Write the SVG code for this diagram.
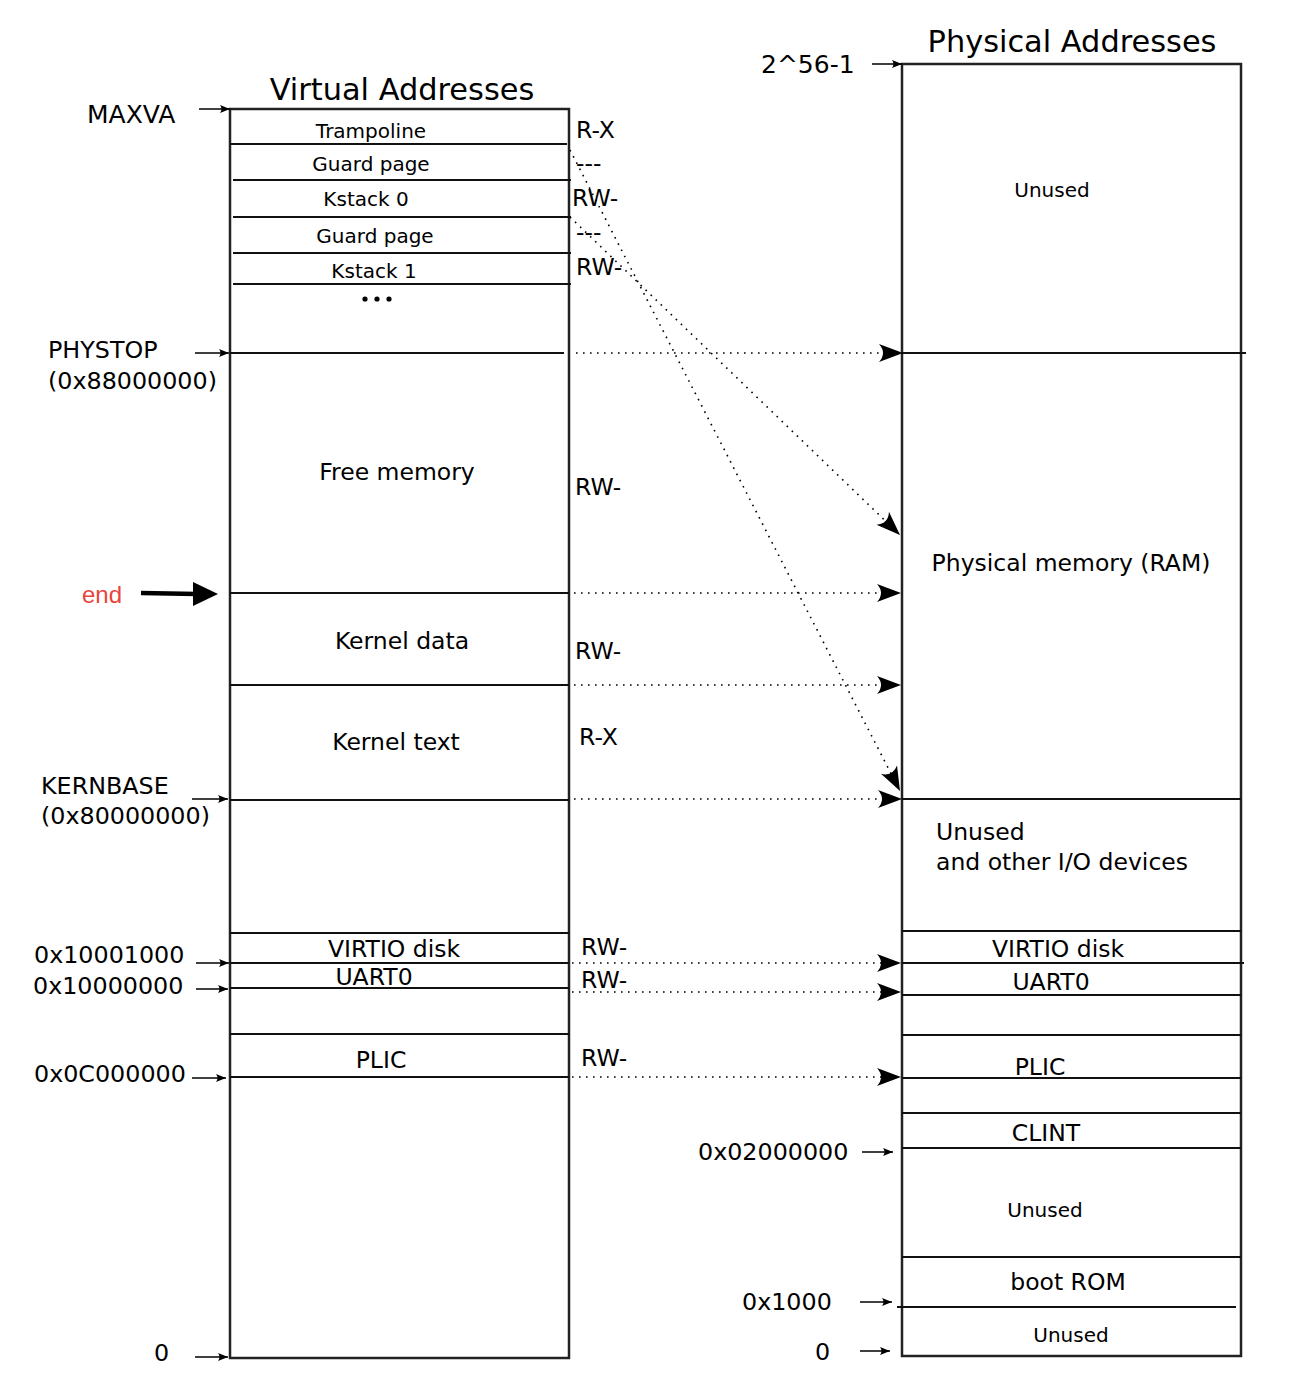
<svg xmlns="http://www.w3.org/2000/svg" width="1316" height="1386" viewBox="0 0 1316 1386">
  <style>
    text { font-family: "DejaVu Sans", "Noto Sans", sans-serif; fill: #000; }
    .title { font-size: 30.4px; text-anchor: middle; }
    .lbl { font-size: 23.5px; }
    .addr { font-size: 23.8px; }
    .big { font-size: 25px; }
    .mid { text-anchor: middle; }
    .sm { font-size: 20px; }
    .perm { font-size: 23.5px; }
    .box { fill: none; stroke: #222; stroke-width: 2.5; }
    .div { stroke: #111; stroke-width: 1.8; fill: none; }
    .ptr { stroke: #000; stroke-width: 1.5; fill: none; marker-end: url(#tick); }
    .map { stroke: #000; stroke-width: 1.6; fill: none; stroke-dasharray: 1.6 5.4; marker-end: url(#barb); }
  </style>
  <defs>
    <marker id="barb" markerUnits="userSpaceOnUse" markerWidth="30" markerHeight="24" refX="0" refY="0" viewBox="-26 -12 28 24" orient="auto">
      <path d="M0,0 L-24,-9 Q-16,0 -24,9 Z" fill="#000"/>
    </marker>
    <marker id="tick" markerUnits="userSpaceOnUse" markerWidth="14" markerHeight="10" refX="0" refY="0" viewBox="-12 -5 13 10" orient="auto">
      <path d="M0,0 L-10,-4 Q-7,0 -10,4 Z" fill="#000"/>
    </marker>
  </defs>

  <!-- Virtual address space column -->
  <g id="virtual">
    <text class="title" x="402" y="100">Virtual Addresses</text>
    <rect class="box" x="230" y="109" width="339" height="1249"/>
    <line class="div" x1="230" y1="144" x2="567" y2="144"/>
    <line class="div" x1="233" y1="180" x2="571" y2="180"/>
    <line class="div" x1="233" y1="217" x2="571" y2="217"/>
    <line class="div" x1="233" y1="253" x2="571" y2="253"/>
    <line class="div" x1="233" y1="284" x2="571" y2="284"/>
    <line class="div" x1="230" y1="353" x2="564" y2="353"/>
    <line class="div" x1="230" y1="593" x2="569" y2="593"/>
    <line class="div" x1="230" y1="685" x2="569" y2="685"/>
    <line class="div" x1="230" y1="800" x2="569" y2="800"/>
    <line class="div" x1="230" y1="933" x2="569" y2="933"/>
    <line class="div" x1="230" y1="963" x2="569" y2="963"/>
    <line class="div" x1="230" y1="988" x2="569" y2="988"/>
    <line class="div" x1="230" y1="1034" x2="569" y2="1034"/>
    <line class="div" x1="230" y1="1077" x2="569" y2="1077"/>

    <text class="sm mid" x="371" y="138">Trampoline</text>
    <text class="sm mid" x="371" y="171">Guard page</text>
    <text class="sm mid" x="366" y="206">Kstack 0</text>
    <text class="sm mid" x="375" y="243">Guard page</text>
    <text class="sm mid" x="374" y="278">Kstack 1</text>
    <circle cx="365" cy="299" r="2.6"/>
    <circle cx="377" cy="299" r="2.6"/>
    <circle cx="389" cy="299" r="2.6"/>
    <text class="lbl mid" x="397" y="480">Free memory</text>
    <text class="lbl mid" x="402" y="649">Kernel data</text>
    <text class="lbl mid" x="396" y="750">Kernel text</text>
    <text class="lbl mid" x="394" y="957">VIRTIO disk</text>
    <text class="lbl mid" x="374" y="985">UART0</text>
    <text class="lbl mid" x="381" y="1068">PLIC</text>

    <text class="perm" x="576" y="138">R-X</text>
    <text class="perm" x="576" y="171">---</text>
    <text class="perm" x="572" y="206">RW-</text>
    <text class="perm" x="576" y="240">---</text>
    <text class="perm" x="576" y="275">RW-</text>
    <text class="perm" x="575" y="495">RW-</text>
    <text class="perm" x="575" y="659">RW-</text>
    <text class="perm" x="579" y="745">R-X</text>
    <text class="perm" x="581" y="955">RW-</text>
    <text class="perm" x="581" y="988">RW-</text>
    <text class="perm" x="581" y="1066">RW-</text>
  </g>

  <!-- Virtual address labels -->
  <g id="virtual-labels">
    <text class="big" x="87" y="123">MAXVA</text>
    <line class="ptr" x1="199" y1="109" x2="230" y2="109"/>
    <text class="addr" x="48" y="358">PHYSTOP</text>
    <text class="addr" x="48" y="389">(0x88000000)</text>
    <line class="ptr" x1="195" y1="353" x2="229" y2="353"/>
    <text x="82" y="603" style="font-family:'Liberation Sans',Arial,sans-serif;font-size:24px;fill:#e8453c">end</text>
    <line x1="141" y1="593" x2="197" y2="594" stroke="#000" stroke-width="4.5"/>
    <path d="M218,594 L193,582 L193,606 Z" fill="#000"/>
    <text class="addr" x="41" y="794">KERNBASE</text>
    <text class="addr" x="41" y="824">(0x80000000)</text>
    <line class="ptr" x1="192" y1="799" x2="228" y2="799"/>
    <text class="addr" x="34" y="963">0x10001000</text>
    <line class="ptr" x1="196" y1="963" x2="229" y2="963"/>
    <text class="addr" x="33" y="994">0x10000000</text>
    <line class="ptr" x1="196" y1="989" x2="228" y2="989"/>
    <text class="addr" x="34" y="1082">0x0C000000</text>
    <line class="ptr" x1="192" y1="1078" x2="226" y2="1078"/>
    <text class="addr" x="154" y="1361">0</text>
    <line class="ptr" x1="195" y1="1357" x2="228" y2="1357"/>
  </g>

  <!-- Physical address space column -->
  <g id="physical">
    <text class="title" x="1072" y="52">Physical Addresses</text>
    <rect class="box" x="902" y="64" width="339" height="1292"/>
    <line class="div" x1="902" y1="353" x2="1246" y2="353"/>
    <line class="div" x1="902" y1="799" x2="1241" y2="799"/>
    <line class="div" x1="902" y1="931" x2="1241" y2="931"/>
    <line class="div" x1="902" y1="963" x2="1244" y2="963"/>
    <line class="div" x1="902" y1="995" x2="1241" y2="995"/>
    <line class="div" x1="902" y1="1035" x2="1241" y2="1035"/>
    <line class="div" x1="902" y1="1078" x2="1241" y2="1078"/>
    <line class="div" x1="902" y1="1113" x2="1241" y2="1113"/>
    <line class="div" x1="902" y1="1148" x2="1241" y2="1148"/>
    <line class="div" x1="902" y1="1257" x2="1241" y2="1257"/>
    <line class="div" x1="897" y1="1307" x2="1236" y2="1307"/>

    <text class="sm mid" x="1052" y="197">Unused</text>
    <text class="lbl mid" x="1071" y="571">Physical memory (RAM)</text>
    <text class="lbl" x="936" y="840">Unused</text>
    <text class="lbl" x="936" y="870">and other I/O devices</text>
    <text class="lbl mid" x="1058" y="957">VIRTIO disk</text>
    <text class="lbl mid" x="1051" y="990">UART0</text>
    <text class="lbl mid" x="1040" y="1075">PLIC</text>
    <text class="lbl mid" x="1046" y="1141">CLINT</text>
    <text class="sm mid" x="1045" y="1217">Unused</text>
    <text class="lbl mid" x="1068" y="1290">boot ROM</text>
    <text class="sm mid" x="1071" y="1342">Unused</text>
  </g>

  <!-- Physical address labels -->
  <g id="physical-labels">
    <text class="big" x="761" y="73">2^56-1</text>
    <line class="ptr" x1="872" y1="64" x2="902" y2="64"/>
    <text class="addr" x="698" y="1160">0x02000000</text>
    <line class="ptr" x1="862" y1="1152" x2="893" y2="1152"/>
    <text class="addr" x="742" y="1310">0x1000</text>
    <line class="ptr" x1="860" y1="1302" x2="892" y2="1302"/>
    <text class="addr" x="815" y="1360">0</text>
    <line class="ptr" x1="860" y1="1351" x2="890" y2="1351"/>
  </g>

  <!-- Virtual-to-physical mappings -->
  <g id="connectors">
    <line class="map" x1="576" y1="353" x2="903" y2="353"/>
    <line class="map" x1="574" y1="593" x2="901" y2="593"/>
    <line class="map" x1="574" y1="685" x2="901" y2="685"/>
    <line class="map" x1="574" y1="799" x2="902" y2="799"/>
    <line class="map" x1="572" y1="963" x2="901" y2="963"/>
    <line class="map" x1="572" y1="992" x2="901" y2="992"/>
    <line class="map" x1="572" y1="1077" x2="901" y2="1077"/>
    <line class="map" x1="570" y1="150" x2="900" y2="791"/>
    <line class="map" x1="570" y1="217" x2="900" y2="535"/>
  </g>
</svg>
